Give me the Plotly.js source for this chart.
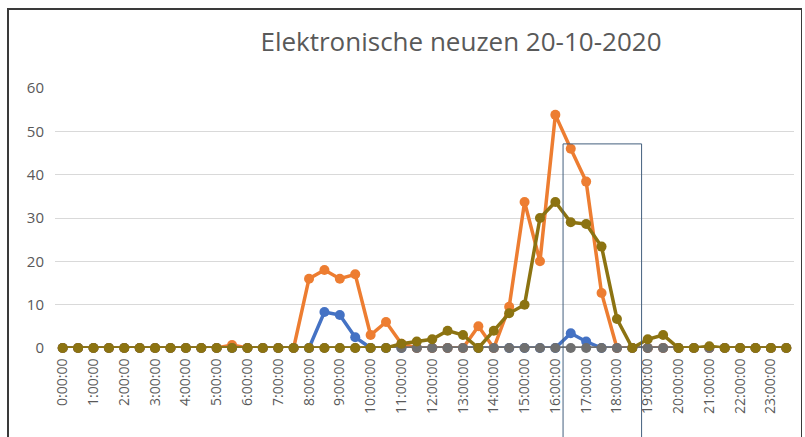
<!DOCTYPE html>
<html>
<head>
<meta charset="utf-8">
<script src="https://cdn.plot.ly/plotly-3.0.1.min.js"></script>
<style>
  html, body { margin: 0; padding: 0; background: #fff; }
  #wrap { position: relative; width: 805px; height: 437px; overflow: hidden; }
  #chart { width: 805px; height: 437px; }
  #frame { position: absolute; left: 7px; top: 8px; width: 792px; height: 440px;
           border-left: 2px solid #3a3a3a; border-top: 2px solid #3a3a3a; border-right: 1px solid #3a3a3a;
           pointer-events: none; }
</style>
</head>
<body>
<div id="wrap">
  <div id="chart"></div>
  <div id="frame"></div>
</div>
<script>
const times = [
  "0:00:00","0:30:00","1:00:00","1:30:00","2:00:00","2:30:00","3:00:00","3:30:00",
  "4:00:00","4:30:00","5:00:00","5:30:00","6:00:00","6:30:00","7:00:00","7:30:00",
  "8:00:00","8:30:00","9:00:00","9:30:00","10:00:00","10:30:00","11:00:00","11:30:00",
  "12:00:00","12:30:00","13:00:00","13:30:00","14:00:00","14:30:00","15:00:00","15:30:00",
  "16:00:00","16:30:00","17:00:00","17:30:00","18:00:00","18:30:00","19:00:00","19:30:00",
  "20:00:00","20:30:00","21:00:00","21:30:00","22:00:00","22:30:00","23:00:00","23:30:00"
];
const hourTicks = [
  "0:00:00","1:00:00","2:00:00","3:00:00","4:00:00","5:00:00","6:00:00","7:00:00",
  "8:00:00","9:00:00","10:00:00","11:00:00","12:00:00","13:00:00","14:00:00","15:00:00",
  "16:00:00","17:00:00","18:00:00","19:00:00","20:00:00","21:00:00","22:00:00","23:00:00"
];
const seriesBlue = [
  0,0,0,0,0,0,0,0, 0,0,0,0,0,0,0,0,
  0,8.3,7.6,2.5,0,0,0,0, 0,0,0,0,0,0,0,0,
  0,3.4,1.5,0,0,0,0,0, 0,0,0,0,0,0,0,0
];
const seriesOrange = [
  0,0,0,0,0,0,0,0, 0,0,0,0.7,0,0,0,0,
  16,18,16,17,3,6,1,0, 0,0,0,5,0,9.5,33.7,20,
  53.8,46,38.4,12.7,0,0,0,0, 0,0,0,0,0,0,0,0
];
const seriesGray = [
  0,0,0,0,0,0,0,0, 0,0,0,0,0,0,0,0,
  0,0,0,0,0,0,0,0, 0,0,0,0,0,0,0,0,
  0,0,0,0,0,0,0,0, 0,0,0,0,0,0,0,0
];
const seriesOlive = [
  0,0,0,0,0,0,0,0, 0,0,0,0,0,0,0,0,
  0,0,0,0,0,0,1,1.5, 2,4,3,0,4,8,10,30,
  33.7,29,28.6,23.4,6.7,0,2,3, 0,0,0.4,0,0,0,0,0
];

function mk(y, color) {
  return {
    x: times, y: y, type: 'scatter', mode: 'lines+markers',
    line: { color: color, width: 3.5 },
    marker: { color: color, size: 10, symbol: 'circle' },
    cliponaxis: false, hoverinfo: 'skip'
  };
}
const data = [
  mk(seriesBlue, '#4472C4'),
  mk(seriesOrange, '#ED7D31'),
  mk(seriesGray, '#6F6F6F'),
  mk(seriesOlive, '#8C7311')
];

const layout = {
  width: 805, height: 437,
  margin: { l: 55, r: 11, t: 88, b: 89 },
  paper_bgcolor: '#ffffff', plot_bgcolor: '#ffffff',
  showlegend: false,
  title: {
    text: 'Elektronische neuzen 20-10-2020',
    font: { family: 'Open Sans', size: 26, color: '#595959' },
    xref: 'container', yref: 'container',
    x: 461 / 805, xanchor: 'center',
    y: 1 - 42 / 437, yanchor: 'middle'
  },
  xaxis: {
    type: 'category',
    range: [-0.5, 47.5],
    tickmode: 'array', tickvals: hourTicks, ticktext: hourTicks,
    tickangle: -90,
    tickfont: { family: 'Open Sans', size: 14, color: '#595959' },
    showgrid: false, zeroline: false, showline: false,
    ticks: 'outside', ticklen: 4, tickcolor: 'rgba(0,0,0,0)'
  },
  yaxis: {
    range: [0, 60],
    tickvals: [0, 10, 20, 30, 40, 50, 60],
    tickfont: { family: 'Open Sans', size: 15, color: '#595959' },
    gridcolor: '#D9D9D9', gridwidth: 1,
    zeroline: false, showline: false,
    ticks: 'outside', ticklen: 7, tickcolor: 'rgba(0,0,0,0)'
  },
  shapes: [{
    type: 'rect', xref: 'x', yref: 'paper',
    x0: 32.5, x1: 37.6, y0: -0.4, y1: 0.785,
    line: { color: '#44607E', width: 1 }, fillcolor: 'rgba(0,0,0,0)'
  }]
};

Plotly.newPlot('chart', data, layout, { staticPlot: true, displayModeBar: false });
</script>
</body>
</html>
